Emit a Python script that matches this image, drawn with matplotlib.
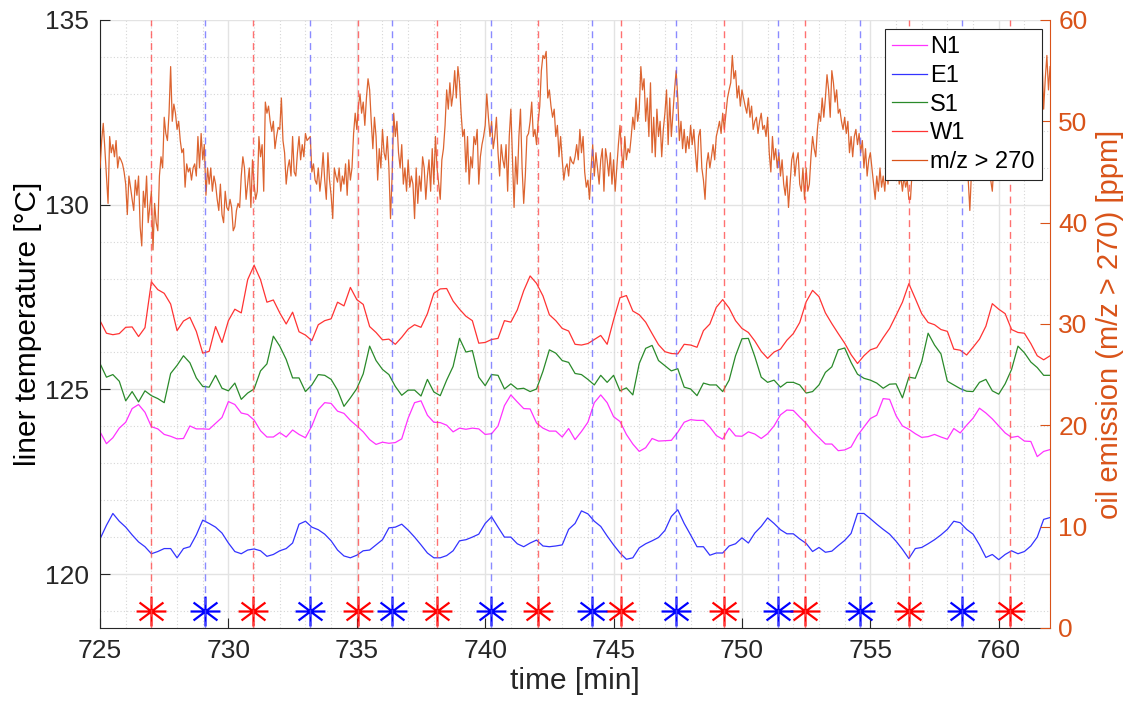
import numpy as np
import matplotlib
matplotlib.use("Agg")
import matplotlib.pyplot as plt
from matplotlib.path import Path
from matplotlib.ticker import MultipleLocator

plt.rcParams['font.family'] = ['Liberation Sans', 'DejaVu Sans']

# temperature samples every 0.25 min from 725 to 762
t_temp = np.linspace(725, 762, 149)

n1 = [123.85, 123.53, 123.69, 123.95, 124.11, 124.48, 124.59, 124.38, 123.99, 123.93,
      123.78, 123.73, 123.66, 123.67, 124.01, 123.93, 123.93, 123.92, 124.08, 124.24,
      124.67, 124.59, 124.36, 124.32, 124.17, 123.88, 123.71, 123.71, 123.83, 123.71,
      123.90, 123.78, 123.69, 124.01, 124.45, 124.64, 124.62, 124.41,
      124.35, 124.16, 124.01, 123.85, 123.64, 123.51, 123.57, 123.54, 123.56, 123.66,
      124.22, 124.64, 124.69, 124.30, 124.11, 124.10, 124.03, 123.85, 123.95, 123.92,
      123.95, 123.93, 123.78, 123.80, 124.01, 124.56, 124.85, 124.66, 124.48, 124.47,
      124.09, 123.95, 123.87, 123.87, 123.71, 123.94, 123.64,
      123.86, 124.11, 124.64, 124.85, 124.64, 124.26, 124.13, 123.78, 123.52, 123.32,
      123.42, 123.67, 123.60, 123.61, 123.62, 123.84, 124.11, 124.18, 124.16, 124.16,
      123.98, 123.75, 123.65, 123.95, 123.74, 123.73, 123.85, 123.79, 123.67, 123.80,
      124.01, 124.31, 124.44, 124.43, 124.25, 124.08,
      123.86, 123.69, 123.52, 123.52, 123.34, 123.36, 123.44, 123.75, 123.98, 124.21,
      124.30, 124.75, 124.73, 124.29, 124.01, 123.92, 123.80, 123.70, 123.72, 123.78,
      123.71, 123.65, 123.94, 123.82, 124.03, 124.22, 124.49, 124.36, 124.20, 124.01,
      123.82, 123.70, 123.73, 123.60, 123.59, 123.18, 123.32, 123.37]

e1 = [120.95, 121.32, 121.64, 121.43, 121.27, 121.06, 120.87, 120.74, 120.55, 120.61,
      120.69, 120.69, 120.44, 120.69, 120.74, 121.06, 121.46, 121.37, 121.27, 121.11,
      120.84, 120.61, 120.55, 120.65, 120.68, 120.63, 120.48, 120.53, 120.63, 120.69,
      120.84, 121.35, 121.43, 121.27, 121.20, 121.08, 120.90, 120.65,
      120.49, 120.44, 120.51, 120.63, 120.65, 120.79, 120.93, 121.25, 121.27, 121.35,
      121.19, 121.00, 120.79, 120.57, 120.44, 120.44, 120.50, 120.63, 120.90, 120.93,
      121.00, 121.08, 121.37, 121.55, 121.27, 121.00, 121.00, 120.82, 120.74, 120.84,
      120.92, 120.76, 120.74, 120.76, 120.79, 121.21, 121.37,
      121.71, 121.63, 121.43, 121.29, 121.03, 120.79, 120.57, 120.40, 120.44, 120.71,
      120.82, 120.90, 120.99, 121.18, 121.56, 121.74, 121.37, 121.06, 120.74, 120.74,
      120.51, 120.57, 120.57, 120.76, 120.82, 120.98, 120.84, 121.11, 121.29, 121.52,
      121.37, 121.20, 121.09, 121.09, 120.95, 120.83,
      120.61, 120.72, 120.59, 120.62, 120.77, 120.91, 121.10, 121.64, 121.64, 121.50,
      121.35, 121.21, 121.08, 120.89, 120.67, 120.42, 120.69, 120.72, 120.82, 120.93,
      121.06, 121.21, 121.43, 121.39, 121.21, 121.08, 120.79, 120.45, 120.53, 120.39,
      120.53, 120.63, 120.55, 120.61, 120.76, 121.00, 121.48, 121.53]

s1 = [125.70, 125.33, 125.40, 125.22, 124.69, 124.94, 124.66, 124.96, 124.83, 124.75,
      124.64, 125.43, 125.65, 125.91, 125.72, 125.31, 125.08, 125.06, 125.38, 125.03,
      124.96, 125.17, 124.73, 124.90, 125.01, 125.50, 125.69, 126.44, 126.17, 125.81,
      125.31, 125.31, 124.94, 125.12, 125.40, 125.38, 125.27, 124.98,
      124.54, 124.77, 125.02, 125.42, 126.17, 125.78, 125.54, 125.40, 125.08, 124.84,
      124.98, 124.98, 124.82, 125.27, 124.93, 124.83, 125.25, 125.62, 126.38, 126.01,
      126.05, 125.33, 125.10, 125.40, 125.38, 125.01, 125.15, 125.01, 125.03, 124.94,
      125.01, 125.49, 126.07, 125.98, 125.78, 125.73, 125.43,
      125.40, 125.27, 125.12, 125.38, 125.19, 125.38, 124.96, 125.04, 124.85, 125.70,
      126.11, 126.19, 125.78, 125.64, 125.50, 125.56, 125.06, 125.01, 124.83, 125.17,
      125.12, 125.12, 124.94, 125.25, 125.91, 126.37, 126.38, 125.89, 125.33, 125.19,
      125.25, 125.06, 125.19, 125.19, 125.12, 124.90,
      124.94, 125.12, 125.46, 125.61, 126.07, 126.12, 125.73, 125.41, 125.30, 125.25,
      125.17, 125.03, 125.14, 125.15, 124.77, 125.33, 125.30, 125.75, 126.52, 126.20,
      125.96, 125.22, 125.12, 125.02, 124.95, 124.94, 125.19, 125.27, 124.96, 124.87,
      125.15, 125.54, 126.17, 125.99, 125.74, 125.59, 125.38, 125.38]

w1 = [126.86, 126.52, 126.48, 126.51, 126.68, 126.69, 126.43, 126.67, 127.91, 127.70,
      127.60, 127.31, 126.59, 126.85, 126.95, 126.57, 125.98, 126.03, 126.70, 126.27,
      126.86, 127.17, 127.07, 127.97, 128.36, 127.97, 127.36, 127.42, 127.07, 126.77,
      127.09, 126.56, 126.47, 126.32, 126.75, 126.86, 126.91, 127.36,
      127.26, 127.76, 127.43, 127.30, 126.70, 126.54, 126.34, 126.36, 126.22, 126.41,
      126.63, 126.75, 126.68, 127.05, 127.60, 127.72, 127.73, 127.39, 127.17, 126.98,
      126.86, 126.25, 126.27, 126.35, 126.38, 126.86, 126.82, 127.15, 127.67, 128.07,
      127.87, 127.53, 127.02, 126.86, 126.65, 126.58, 126.22,
      126.20, 126.24, 126.35, 126.46, 126.22, 126.88, 127.48, 127.54, 127.12, 127.02,
      126.82, 126.51, 126.21, 126.02, 125.97, 125.96, 126.22, 126.20, 126.14, 126.59,
      126.77, 127.22, 127.43, 127.20, 126.86, 126.65, 126.54, 126.31, 126.03, 125.84,
      126.01, 126.09, 126.33, 126.51, 126.81, 127.37,
      127.68, 127.51, 127.07, 126.78, 126.51, 126.25, 125.94, 125.70, 125.91, 126.07,
      126.13, 126.40, 126.65, 127.00, 127.36, 127.86, 127.46, 127.05, 126.81, 126.75,
      126.62, 126.57, 126.09, 126.06, 125.93, 126.14, 126.36, 126.71, 127.32, 127.17,
      127.05, 126.62, 126.54, 126.52, 126.24, 125.91, 125.80, 125.91]

# oil emission samples every 1/16 min
t_oil = np.linspace(725, 762, 593)
oil = [45.4, 48.1, 49.8, 47.3, 44.6, 41.9, 48.5, 46.9, 47.7, 46.5,
       48.1, 45.4, 46.5, 46.2, 45.8, 45.0, 43.8, 40.8, 44.6, 43.5,
       42.3, 41.2, 44.2, 42.7, 44.6, 39.6, 37.7, 43.1, 41.5, 44.6,
       40.0, 41.5, 43.1, 37.3, 41.9, 40.0, 39.2, 44.6, 46.5, 45.4,
       50.4, 48.8, 48.1, 50.8, 55.4, 50.0, 51.7, 50.8, 49.2, 50.0,
       48.1, 46.9, 47.3, 43.5, 45.8, 45.0, 45.4, 44.2, 45.4, 45.8,
       44.6, 48.5, 45.4, 48.8, 46.2, 47.7, 42.7, 45.4, 43.8, 45.4,
       43.1, 44.6, 43.8, 42.3, 41.2, 43.8, 40.8, 40.0, 43.1, 41.5,
       41.2, 42.3, 41.5, 39.2, 39.6, 41.2, 41.9, 41.5, 44.6, 46.5,
       45.4, 42.3, 43.8, 45.4, 41.5, 46.2, 43.8, 42.3, 43.1, 48.5,
       46.5, 47.7, 43.1, 51.9, 50.8, 51.5, 50.0, 49.0, 50.0, 47.3,
       48.5, 49.4, 49.2, 52.3, 48.1, 46.9, 43.8, 45.4, 46.2, 44.6,
       48.5, 45.0, 44.6, 46.9, 48.5, 46.2, 47.7, 46.5, 48.8, 48.1,
       48.3, 48.5, 45.0, 45.8, 44.2, 43.8, 45.4, 43.1, 44.6, 46.9,
       44.2, 42.3, 46.9, 44.2, 42.7, 40.4, 45.4, 44.6, 44.0,
       45.4, 43.1, 44.6, 43.8, 45.8, 42.7, 46.2, 44.2, 45.4, 48.8,
       50.8, 49.2, 51.5, 52.7, 50.8, 51.9, 49.6, 52.3, 54.2, 53.1,
       50.0, 47.3, 50.4, 48.5, 44.2, 47.3, 45.4, 49.2, 46.9, 46.2,
       48.5, 45.4, 40.4, 44.6, 50.8, 48.5, 50.0, 46.9, 45.4, 47.7,
       43.8, 45.4, 43.1, 46.2, 43.5, 44.6, 43.8, 40.4, 45.4, 41.9,
       44.6, 43.1, 46.5, 45.4, 42.3, 44.6, 46.2, 43.1, 47.3, 43.8,
       48.5, 45.4, 43.8, 42.3, 46.2, 47.3, 49.6, 53.1, 51.2, 53.8,
       51.5, 52.7, 55.0, 52.3, 55.4, 53.8, 50.8, 48.5, 49.2, 45.0,
       48.5, 43.8, 46.5, 45.4, 48.5, 47.7, 49.2, 43.8, 46.5, 47.7,
       48.5, 49.6, 52.7, 50.4, 48.5, 50.0, 47.3, 48.5, 50.4, 46.9,
       44.6, 47.7, 46.2, 45.4, 47.7, 43.1, 48.5, 51.2, 46.5, 41.5,
       46.5, 43.8, 48.5, 51.2, 45.4, 41.9, 44.6, 48.5, 48.8, 50.0,
       51.9, 48.5, 49.2, 47.7, 50.0, 51.5, 55.0, 56.5, 56.2, 56.9,
       52.3, 53.1, 51.5, 50.4, 51.2, 48.5, 49.6, 46.5, 48.5, 46.2,
       44.2, 45.4, 45.8, 44.6, 46.5, 46.0, 45.8,
       46.5, 47.7, 46.2, 49.2, 46.9, 48.5, 45.0, 43.5, 44.2, 42.3,
       45.4, 47.7, 44.6, 46.9, 45.4, 43.8, 46.2, 47.3, 43.1, 47.3,
       46.2, 44.6, 46.9, 43.8, 46.2, 43.1, 45.4, 47.7, 49.6, 46.9,
       45.4, 48.5, 46.2, 47.3, 46.9, 48.5, 50.4, 49.2, 52.3, 50.0,
       51.2, 55.4, 53.1, 54.2, 50.0, 52.3, 48.5, 53.8, 46.9, 50.4,
       46.5, 51.2, 48.5, 50.0, 46.5, 49.2, 50.8, 53.1, 47.7, 52.3,
       48.5, 50.8, 53.1, 55.0, 52.3, 48.1, 50.0, 47.3, 49.2, 46.9,
       48.5, 47.3, 49.6, 47.7, 49.2, 46.9, 45.0, 48.5, 49.2, 45.4,
       44.2, 42.3, 45.8, 46.9, 45.4, 46.5, 47.7, 46.2, 48.5, 49.2,
       50.0, 48.8, 50.8, 49.2, 50.8, 52.3, 53.1, 53.8, 56.5, 54.2,
       55.0, 52.3, 53.5, 51.5, 53.1, 52.3, 51.5, 50.8, 52.3, 50.4,
       51.5, 49.2, 50.0, 50.4, 48.8, 50.0, 50.8, 49.2, 49.6, 48.5,
       50.4, 46.9, 45.0, 48.5, 46.2, 47.3, 45.4, 46.9, 44.6, 46.2,
       43.8, 42.7, 44.6, 41.5, 43.8, 46.2, 46.9, 44.6, 46.2, 46.9,
       43.8, 43.1, 45.4, 42.3, 45.4, 43.1,
       43.8, 46.5, 48.5, 47.3, 46.5, 49.2, 50.8, 50.0, 52.3, 50.4,
       52.3, 54.6, 53.1, 50.4, 55.0, 53.8, 51.9, 53.1, 50.8, 51.2,
       50.0, 49.2, 50.4, 48.8, 50.0, 46.9, 48.5, 46.5, 48.5, 49.2,
       47.7, 48.8, 46.9, 48.1, 45.4, 47.3, 44.6, 46.2, 46.9, 45.4,
       43.8, 42.3, 44.6, 43.1, 45.4, 43.5, 44.6, 43.1, 45.4, 43.8,
       46.2, 48.5, 48.8, 45.4, 44.6, 46.2, 43.8, 44.6, 43.1, 44.6,
       43.5, 44.2, 42.3, 42.3,
       45.0, 47.3, 44.6, 46.5, 48.1, 45.4, 46.9, 44.2, 47.7, 45.8,
       47.3, 44.6, 46.2, 48.5, 45.0, 47.7, 46.2, 44.2, 46.9, 48.8,
       45.8, 47.3, 45.0, 47.7, 49.2, 46.5, 48.1, 45.4, 47.3, 46.2,
       48.5, 45.8, 47.3, 44.6, 46.5, 44.2, 41.2, 45.0, 47.3, 45.8,
       48.1, 46.2, 47.7, 45.4, 47.3, 48.8, 46.2, 47.7, 45.0, 44.2,
       43.1, 45.8, 47.7, 46.2, 48.5, 46.9, 48.1, 46.5, 49.2, 47.3,
       48.8, 46.9, 49.6, 47.7, 50.0, 48.1, 49.2, 47.7, 50.4, 48.5,
       50.8, 48.8, 51.2, 49.2, 50.4, 48.5, 51.5, 49.6, 50.8, 48.8,
       50.0, 56.2, 51.2, 54.2, 56.5, 53.1, 55.4]

# event times [min]
red_events = [726.97, 730.94, 735.05, 738.14, 742.06, 745.29, 749.29, 752.47, 756.49, 760.45]
blue_events = [729.08, 733.18, 736.36, 740.22, 744.16, 747.44, 751.42, 754.58, 758.56]
marker_level = 119

orange = '#D95319'
dark = '#262626'

# MATLAB-like asterisk
ast = Path([(-1, 0), (1, 0), (0, -1), (0, 1), (-0.8, -0.6), (0.8, 0.6), (-0.8, 0.6), (0.8, -0.6)],
           [Path.MOVETO, Path.LINETO] * 4)

fig = plt.figure(figsize=(11.29, 7.06), dpi=100)
ax = fig.add_axes([0.0886, 0.1105, 0.8415, 0.8612])
ax2 = ax.twinx()

l1, = ax.plot(t_temp, n1, color='#ff33ff', lw=0.9, label='N1')
l2, = ax.plot(t_temp, e1, color='#3333ff', lw=0.9, label='E1')
l3, = ax.plot(t_temp, s1, color='#2a8a2a', lw=0.9, label='S1')
l4, = ax.plot(t_temp, w1, color='#ff3333', lw=0.9, label='W1')
l5, = ax2.plot(t_oil, oil, color=orange, lw=0.9, alpha=0.9, label='m/z > 270')

for t in red_events:
    ax2.axvline(t, color='#ff4d4d', lw=1, ls=(0, (5, 3.5)), alpha=0.8)
for t in blue_events:
    ax2.axvline(t, color='#5a5aff', lw=1, ls=(0, (5, 3.5)), alpha=0.7)
ax.plot(red_events, [marker_level] * len(red_events), ls='none', marker=ast, ms=21.5,
        mec='#ff0000', mfc='none', mew=1.6, clip_on=False)
ax.plot(blue_events, [marker_level] * len(blue_events), ls='none', marker=ast, ms=21.5,
        mec='#0000ff', mfc='none', mew=1.6, clip_on=False)

ax.set_xlim(725, 762)
ax.set_ylim(118.54, 135)
ax2.set_ylim(0, 60)
ax.set_xticks(np.arange(725, 761, 5))
ax.set_yticks([120, 125, 130, 135])
ax2.set_yticks(np.arange(0, 61, 10))
ax.xaxis.set_minor_locator(MultipleLocator(1))
ax.yaxis.set_minor_locator(MultipleLocator(1))

ax.set_axisbelow(True)
ax.grid(which='major', color='#e3e3e3', lw=1.0, ls='-')
ax.grid(which='minor', color='#d6d6d6', lw=0.8, ls=(0, (1, 2)))

ax.tick_params(which='major', direction='in', length=7, width=0.8, colors=dark,
               labelsize=19, pad=8)
ax.tick_params(which='minor', length=0)
ax2.tick_params(which='major', direction='in', length=7, width=0.8, colors=orange,
                labelsize=19, pad=6)

for s in ['top', 'right']:
    ax.spines[s].set_visible(False)
ax.spines['left'].set_color(dark)
ax.spines['bottom'].set_color(dark)
for s in ['top', 'left', 'bottom']:
    ax2.spines[s].set_visible(False)
ax2.spines['right'].set_color(orange)

ax.set_xlabel('time [min]', fontsize=21.5, color=dark, labelpad=3)
ax.set_ylabel('liner temperature [°C]', fontsize=21.5, color='#000000', labelpad=2)
ax2.set_ylabel('oil emission (m/z > 270) [ppm]', fontsize=21, color=orange, labelpad=6)

leg = ax2.legend(handles=[l1, l2, l3, l4, l5], loc='upper right',
                 bbox_to_anchor=(0.9913, 0.9847), borderaxespad=0, fontsize=17,
                 fancybox=False, framealpha=1, edgecolor=dark, handlelength=1.45,
                 handletextpad=0.15, labelspacing=0.28, borderpad=0.3)
leg.get_frame().set_linewidth(0.8)
for h in leg.get_lines():
    h.set_alpha(1)

fig.savefig('out.png', dpi=100)
